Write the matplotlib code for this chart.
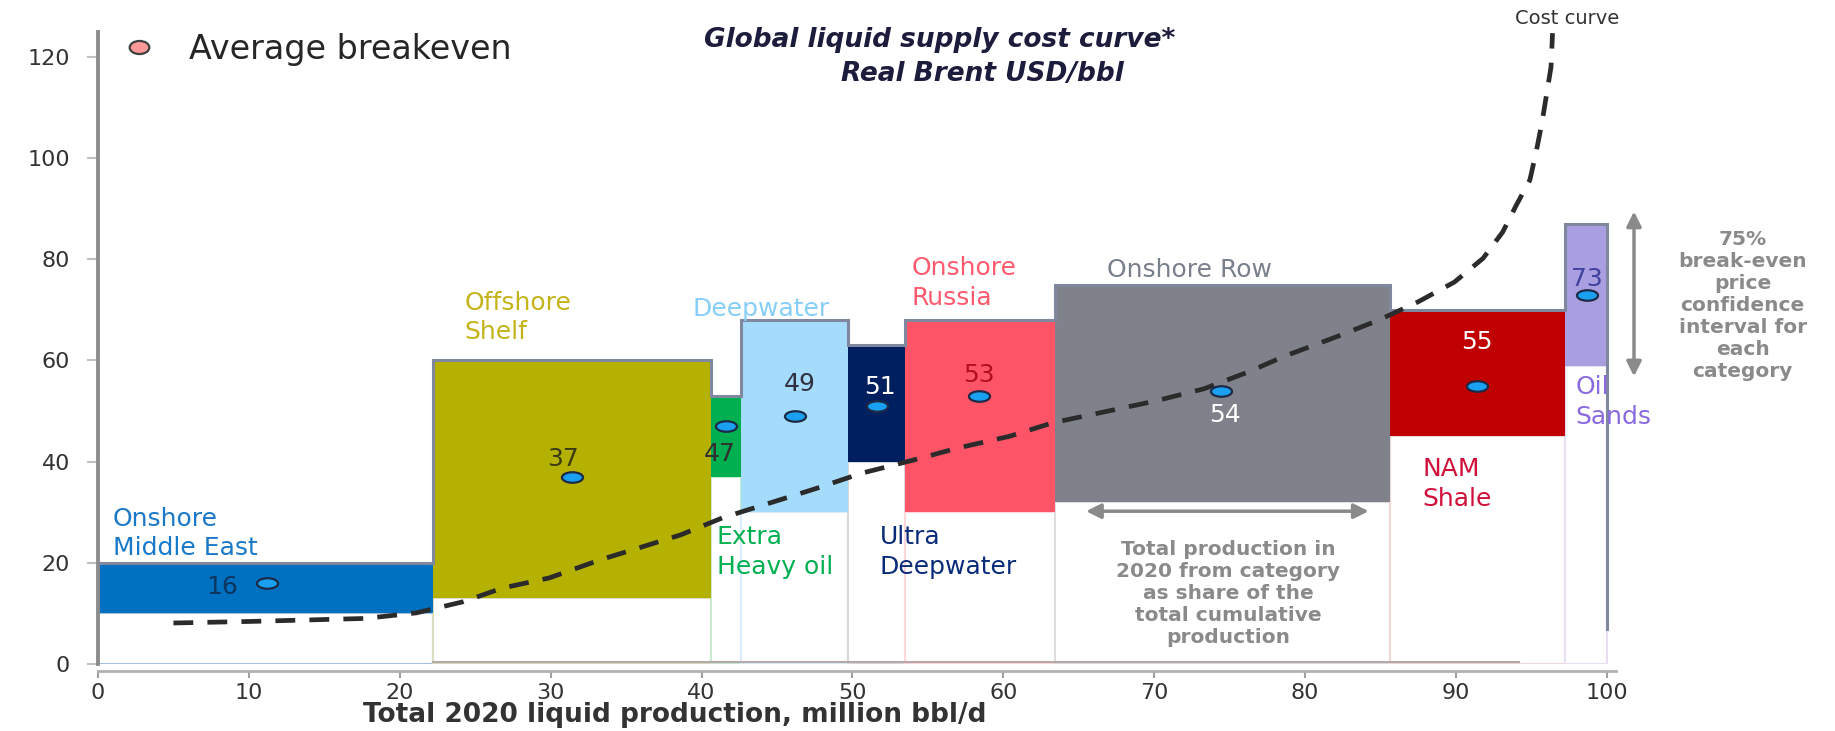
import matplotlib
matplotlib.use("Agg")
import matplotlib.pyplot as plt
import numpy as np
from matplotlib.path import Path
from matplotlib.transforms import Affine2D

plt.rcParams['font.family'] = ['DejaVu Sans']

# =====================================================================
# Data
# =====================================================================
categories = ["Onshore\nMiddle East", "Offshore\nShelf", "Extra\nHeavy oil",
              "Deepwater", "Ultra\nDeepwater", "Onshore\nRussia",
              "Onshore Row", "NAM\nShale", "Oil\nSands"]
# cumulative production edges (million bbl/d)
edges = [0, 22.2, 40.6, 42.6, 49.7, 53.5, 63.4, 85.6, 97.2, 100.0]
# 75% confidence band of break-even price (USD/bbl)
low = [10, 13, 37, 30, 40, 30, 32, 45, 59]
high = [20, 60, 53, 68, 63, 68, 75, 70, 87]
# average breakeven and where the dot sits inside the block
avg_breakeven = [16, 37, 47, 49, 51, 53, 54, 55, 73]
dot_x = [11.2, 31.4, 41.6, 46.2, 51.6, 58.4, 74.4, 91.4, 98.7]

# dashed cost curve
cost_x = [5.0, 10.0, 13.9, 17.7, 21.1, 24.2, 26.8, 29.9, 33.3, 35.8, 38.6,
          41.4, 44.5, 47.5, 50.6, 53.9, 57.0, 60.4, 63.3, 66.8, 70.1, 73.3,
          76.3, 78.6, 82.1, 84.9, 87.5, 89.9, 91.8, 93.1, 94.0, 94.9, 95.3,
          95.7, 96.0, 96.3, 96.4]
cost_y = [8.1, 8.4, 8.7, 9.0, 10.1, 12.3, 15.0, 17.0, 20.6, 22.9, 25.5,
          28.9, 31.8, 34.6, 37.7, 40.2, 42.7, 45.0, 47.7, 49.9, 52.0, 54.4,
          57.8, 60.8, 64.7, 68.0, 71.6, 75.5, 80.2, 85.4, 90.7, 95.7, 101.0,
          107.0, 112.5, 118.0, 124.7]

x_ticks = list(range(0, 101, 10))
y_ticks = list(range(0, 121, 20))

# =====================================================================
# Styling
# =====================================================================
box_colors = ['#0070c0', '#b5b100', '#00b050', '#a5dbfb', '#001f5f',
              '#fe5468', '#7f828a', '#c00000', '#a99fe0']
base_edge = ['#a8bfe0', '#dcdcc0', '#c8e8d0', '#dcecf8', '#d8d8dc',
             '#ffd8dc', '#dddddd', '#f0d8d8', '#e8e0f0']
name_colors = ['#1a78c8', '#c4b41a', '#00b050', '#86cef8', '#0a2a7a',
               '#ff5a6e', '#7a7f8c', '#d0103a', '#8a6ae0']
# (left x, last-line baseline y)
name_pos = [(1.0, 21.5), (24.3, 64.2), (41.0, 17.8), (39.4, 68.7),
            (51.8, 17.8), (53.9, 71.0), (66.9, 76.5), (87.8, 31.2),
            (97.9, 47.4)]
value_pos = [(8.2, 15.2), (30.8, 40.5), (41.2, 41.5), (46.5, 55.4),
             (51.8, 54.8), (58.4, 57.1), (74.7, 49.2), (91.4, 63.7),
             (98.7, 76.1)]
value_colors = ['#0d3560', '#3c3c14', '#303030', '#303040', 'white',
                '#b01020', 'white', 'white', '#4040a0']

# flattened dot marker (the source chart is stretched sideways)
dot_marker = Path.unit_circle().transformed(Affine2D().scale(2.0, 1.0))
legend_marker = Path.unit_circle().transformed(Affine2D().scale(1.5, 1.0))

fig = plt.figure(figsize=(18.35, 7.31), dpi=100)
ax = fig.add_axes([0.0534, 0.0917, 0.8272, 0.865])

widths = np.diff(edges)
lefts = np.array(edges[:-1])

# white base bars (light outline), then the coloured confidence band
ax.bar(lefts, low, widths, align='edge', color='white',
       edgecolor=base_edge, linewidth=1.5, zorder=1)
ax.bar(lefts, np.array(high) - np.array(low), widths, bottom=low,
       align='edge', color=box_colors, linewidth=0, zorder=2)

# step outline along the tops
step_x = list(np.repeat(edges, 2)[1:-1]) + [edges[-1]]
step_y = list(np.repeat(high, 2)) + [7]
ax.plot(step_x, step_y, color='#8088a0', linewidth=2.2, zorder=3,
        solid_joinstyle='miter')

# cost curve
line, = ax.plot(cost_x, cost_y, color='#2b2b2b', linewidth=3.4, zorder=4)
line.set_dashes([4.2, 3.0])

# average breakeven dots
ax.scatter(dot_x, avg_breakeven, s=230, marker=dot_marker, color='#1aa0f0',
           edgecolor='#1c2a48', linewidth=1.6, zorder=5)

for i, v in enumerate(avg_breakeven):
    ax.text(value_pos[i][0], value_pos[i][1], str(v), ha='center',
            va='center', fontsize=18, color=value_colors[i], zorder=6)

for i, name in enumerate(categories):
    ax.text(name_pos[i][0], name_pos[i][1], name, ha='left', va='baseline',
            fontsize=18, color=name_colors[i], linespacing=1.3, zorder=6)

# --- legend-like marker and titles ---
ax.scatter([2.7], [122], s=200, marker=legend_marker, color='#ff9999',
           edgecolor='#404040', linewidth=1.6, zorder=6, clip_on=False)
ax.text(6.0, 121.5, 'Average breakeven', fontsize=24, color='#262626',
        va='center', ha='left')
ax.text(55.8, 123.4, 'Global liquid supply cost curve*', fontsize=19,
        fontweight='bold', style='italic', color='#1c1c3c',
        ha='center', va='center')
ax.text(58.6, 116.6, 'Real Brent USD/bbl', fontsize=19,
        fontweight='bold', style='italic', color='#1c1c3c',
        ha='center', va='center')

# --- annotations ---
ax.text(97.4, 127.6, 'Cost curve', fontsize=14, color='#333333',
        ha='center', va='center', clip_on=False)

ax.annotate('', xy=(101.8, 90.0), xytext=(101.8, 56.3),
            arrowprops=dict(arrowstyle='<|-|>', color='#8a8a8a', lw=2.5,
                            mutation_scale=22),
            annotation_clip=False)
ax.text(109.0, 70.8,
        '75%\nbreak-even\nprice\nconfidence\ninterval for\neach\ncategory',
        fontsize=14.5, fontweight='bold', color='#8a8a8a', ha='center',
        va='center', linespacing=1.2)

ax.annotate('', xy=(65.3, 30.2), xytext=(84.4, 30.2),
            arrowprops=dict(arrowstyle='<|-|>', color='#8a8a8a', lw=2.5,
                            mutation_scale=22))
ax.text(74.9, 14.0,
        'Total production in\n2020 from category\nas share of the\n'
        'total cumulative\nproduction',
        fontsize=14.5, fontweight='bold', color='#8a8a8a', ha='center',
        va='center', linespacing=1.2)

# faint line along the foot of the blocks
ax.plot([22.2, 94.2], [0.3, 0.3], color='#b4a8a8', linewidth=1.5, zorder=2)

# --- axes ---
ax.set_xlim(0, 100.6)
ax.set_ylim(0, 125)
ax.set_xticks(x_ticks)
ax.set_yticks(y_ticks)
ax.spines['top'].set_visible(False)
ax.spines['right'].set_visible(False)
ax.spines['left'].set_color('#8c8c8c')
ax.spines['left'].set_linewidth(2.8)
ax.spines['bottom'].set_color('#b0b0b0')
ax.spines['bottom'].set_linewidth(2)
ax.spines['bottom'].set_position(('outward', 5))
ax.tick_params(axis='y', length=8, width=1.5, color='#c0c0c0', pad=12,
               labelsize=16, labelcolor='#333333')
ax.tick_params(axis='x', length=5, width=1.5, color='#a0a0a0', pad=4,
               labelsize=16, labelcolor='#333333')
ax.set_xlabel('Total 2020 liquid production, million bbl/d', fontsize=19,
              fontweight='bold', color='#333333')
ax.xaxis.label.set_va('center')
ax.xaxis.set_label_coords(0.38, -0.080)

fig.savefig('out.png', dpi=100, facecolor='white')
